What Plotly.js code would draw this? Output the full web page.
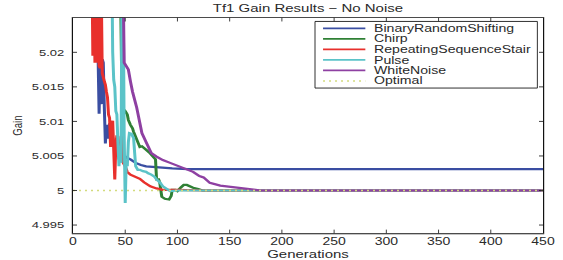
<!DOCTYPE html>
<html>
<head>
<meta charset="utf-8">
<script src="https://cdn.plot.ly/plotly-3.0.1.min.js"></script>
<style>
  html, body { margin: 0; padding: 0; background: #fff; overflow: hidden; }
  #wrap { width: 563px; height: 260px; overflow: hidden; }
  #chart { width: 563px; height: 351px; transform: scale(1, 0.7407407); transform-origin: 0 0; }
</style>
</head>
<body>
<div id="wrap"><div id="chart"></div></div>
<script>
// ---- Data ----
const seriesNames = ["BinaryRandomShifting", "Chirp", "RepeatingSequenceStair", "Pulse", "WhiteNoise", "Optimal"];

const binaryX = [24, 25, 26, 27, 28, 29, 30, 31, 32, 33, 35, 37, 40, 42, 45, 48, 50, 52, 55, 60, 65, 70, 77, 85, 95, 110, 130, 160, 200, 300, 450];
const binaryY = [5.0195, 5.0111, 5.0188, 5.0125, 5.019, 5.0185, 5.012, 5.0068, 5.0095, 5.0075, 5.0097, 5.0085, 5.006, 5.0054, 5.0057, 5.0052, 5.0049, 5.0047, 5.0045, 5.004, 5.0037, 5.0035, 5.0034, 5.0033, 5.0032, 5.0031, 5.0031, 5.0031, 5.0031, 5.0031, 5.0031];

const chirpX = [45, 46, 47, 48, 50, 52, 53, 55, 57, 58, 60, 62, 64, 66, 68, 70, 73, 76, 78, 79, 80, 82, 83, 84, 85, 88, 92, 94, 95, 98, 100, 103, 106, 109, 112, 115, 120, 124, 450];
const chirpY = [5.035, 5.025, 5.012, 5.0118, 5.0115, 5.011, 5.0102, 5.0095, 5.009, 5.0085, 5.0078, 5.007, 5.0063, 5.0064, 5.0062, 5.0059, 5.0055, 5.005, 5.0047, 5.0045, 5.0016, 5.0016, 5.0012, 5.0004, 4.9991, 4.9988, 4.9987, 4.9992, 5.0001, 5.0001, 4.9999, 5.0004, 5.0008, 5.0008, 5.0006, 5.0004, 5.0002, 5.0, 5.0];

const stairX = [18, 19, 20, 21, 22, 23, 24, 25, 26, 27, 28, 30, 31, 32, 33, 34, 35, 36, 37, 38, 39, 40, 41, 42, 43, 44, 45, 46, 47, 48, 50, 52, 55, 58, 61, 64, 68, 71, 74, 80, 86, 100, 110, 125, 450];
const stairY = [5.035, 5.0195, 5.03, 5.0185, 5.03, 5.0185, 5.03, 5.018, 5.0177, 5.03, 5.017, 5.0158, 5.0153, 5.0143, 5.0135, 5.011, 5.0105, 5.0063, 5.0095, 5.0101, 5.006, 5.0016, 5.0065, 5.008, 5.0055, 5.0045, 5.006, 5.0078, 5.008, 5.004, 5.0035, 5.0027, 5.0023, 5.0021, 5.0019, 5.0017, 5.0012, 5.0009, 5.0006, 5.0003, 5.0001, 5.0001, 5.00005, 5.0, 5.0];

const pulseX = [37, 38, 39, 40, 41, 42, 43, 44, 45, 46, 47, 48, 49, 50, 51, 52, 53, 54, 56, 58, 59, 60, 62, 64, 67, 70, 72, 75, 78, 80, 83, 86, 90, 93, 100, 450];
const pulseY = [5.035, 5.02, 5.016, 5.015, 5.0115, 5.011, 5.007, 5.0035, 5.006, 5.004, 5.035, 5.03, 5.008, 4.9982, 5.0044, 5.0035, 5.007, 5.0083, 5.0082, 5.0076, 5.0055, 5.0035, 5.003, 5.003, 5.0028, 5.0027, 5.0025, 5.0023, 5.002, 5.0016, 5.0012, 5.0006, 5.0002, 4.9999, 5.0, 5.0];

const whiteX = [47, 48, 49, 51, 53, 55, 57, 61, 64, 66, 70, 75, 80, 86, 93, 103, 115, 121, 125, 131, 141, 153, 165, 180, 450];
const whiteY = [5.035, 5.03, 5.0185, 5.018, 5.0175, 5.0158, 5.0143, 5.012, 5.0097, 5.0083, 5.007, 5.0054, 5.0049, 5.0044, 5.004, 5.0034, 5.0027, 5.0021, 5.0019, 5.0011, 5.0007, 5.0005, 5.0003, 5.0, 5.0];

const optimalX = [0, 450];
const optimalY = [5.0, 5.0];

const xTickVals = [0, 50, 100, 150, 200, 250, 300, 350, 400, 450];
const yTickVals = [4.995, 5, 5.005, 5.01, 5.015, 5.02];
const yTickText = ["4.995", "5", "5.005", "5.01", "5.015", "5.02"];

// ---- Styles ----
const colors = ["#3a4ea2", "#2f8035", "#e8302c", "#5bc3c8", "#8e40a2", "#d3db7e"];
const FONT = "Liberation Sans, Arial, Helvetica, sans-serif";
const TXT = "#2a2a2a";

const xs = [binaryX, chirpX, stairX, pulseX, whiteX, optimalX];
const ys = [binaryY, chirpY, stairY, pulseY, whiteY, optimalY];

const traces = xs.map((x, i) => ({
  x: x, y: ys[i], type: "scatter", mode: "lines", name: seriesNames[i],
  line: i === 5 ? {color: colors[i], width: 2, dash: "2px,4px"}
               : {color: colors[i], width: 3, shape: "linear"},
  showlegend: false, hoverinfo: "skip"
}));

// custom compact legend (annotations + shapes)
const legX0 = 0.5149, legX1 = 0.988, legY0 = 0.674, legY1 = 0.983;
const rowY0 = 0.951, rowStep = 0.0488;
const shapes = [{type: "rect", xref: "paper", yref: "paper", x0: legX0, x1: legX1, y0: legY0, y1: legY1,
  line: {color: "#111", width: 1}, fillcolor: "#fff", layer: "above"}];
const annotations = [];
seriesNames.forEach((nm, i) => {
  const yy = rowY0 - i * rowStep;
  shapes.push({type: "line", xref: "paper", yref: "paper", x0: 0.532, x1: 0.622, y0: yy, y1: yy, layer: "above",
    line: i === 5 ? {color: colors[i], width: 2, dash: "2px,4px"} : {color: colors[i], width: 2.4}});
  annotations.push({xref: "paper", yref: "paper", x: 0.636, y: yy, xanchor: "left", yanchor: "middle",
    text: nm, showarrow: false, font: {family: FONT, size: 14.1, color: TXT}});
});

const layout = {
  width: 563, height: 351,
  margin: {l: 73, r: 20, t: 24.3, b: 36.45},
  paper_bgcolor: "#fff", plot_bgcolor: "#fff",
  font: {family: FONT, size: 13, color: TXT},
  title: {text: "Tf1 Gain Results − No Noise", font: {family: FONT, size: 15, color: TXT},
          x: 0.547, xanchor: "center", xref: "container", y: 0.969, yanchor: "middle", yref: "container"},
  xaxis: {range: [0, 450], tickvals: xTickVals, ticks: "inside", ticklen: 5, tickcolor: "#222",
          showline: true, linecolor: "#111", linewidth: 1.2, mirror: "ticks", showgrid: false, zeroline: false,
          tickfont: {family: FONT, size: 14, color: TXT}, ticklabelstandoff: -2,
          title: {text: "Generations", font: {family: FONT, size: 15, color: TXT}, standoff: 2}},
  yaxis: {range: [4.9938, 5.025], tickvals: yTickVals, ticktext: yTickText, ticks: "inside", ticklen: 4, tickcolor: "#222",
          showline: true, linecolor: "#111", linewidth: 1.2, mirror: "ticks", showgrid: false, zeroline: false,
          tickfont: {family: FONT, size: 13, color: TXT}, ticklabelstandoff: 5,
          title: {text: "Gain", font: {family: FONT, size: 13, color: TXT}, standoff: 6}},
  shapes: shapes,
  annotations: annotations
};

Plotly.newPlot("chart", traces, layout, {staticPlot: true, displayModeBar: false});
</script>
</body>
</html>
